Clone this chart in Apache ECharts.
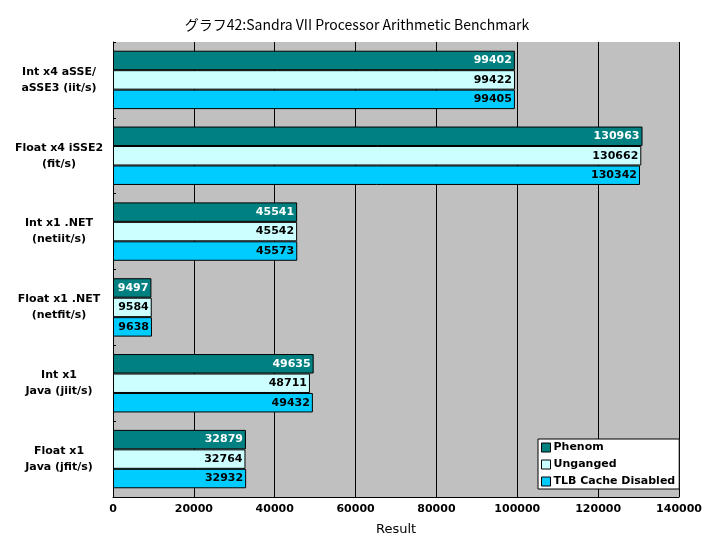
<!DOCTYPE html>
<html><head><meta charset="utf-8">
<script src="https://cdn.jsdelivr.net/npm/echarts@6/dist/echarts.min.js"></script>
<style>html,body{margin:0;padding:0;background:#fff}#c{width:705px;height:550px}</style>
</head><body><div id="c"></div>
<script>
const categories = ["Int x4 aSSE/\naSSE3 (iit/s)", "Float x4 iSSE2\n(fit/s)", "Int x1 .NET\n(netiit/s)", "Float x1 .NET\n(netfit/s)", "Int x1\nJava (jiit/s)", "Float x1\nJava (jfit/s)"];
const phenom = [99402, 130963, 45541, 9497, 49635, 32879];
const unganged = [99422, 130662, 45542, 9584, 48711, 32764];
const tlbDisabled = [99405, 130342, 45573, 9638, 49432, 32932];
const seriesNames = ["Phenom", "Unganged", "TLB Cache Disabled"];
const xTicks = {min: 0, max: 140000, interval: 20000};

const font = '"DejaVu Sans", sans-serif';
const chart = echarts.init(document.getElementById('c'), null, {renderer: 'canvas'});
function mk(name, data, color, labelColor) {
  return {
    name, type: 'bar', data,
    barGap: '0%', barCategoryGap: '23%',
    itemStyle: {color, borderColor: '#000', borderWidth: 1},
    label: {show: true, position: 'insideRight', distance: 3, color: labelColor,
      fontFamily: font, fontWeight: 'bold', fontSize: 11},
    emphasis: {disabled: true}, animation: false
  };
}
chart.setOption({
  backgroundColor: '#fff',
  animation: false,
  title: {text: 'グラフ42:Sandra VII Processor Arithmetic Benchmark', left: 352, top: 13, textAlign: 'center',
    textStyle: {fontFamily: '"Noto Sans CJK JP", ' + font, fontSize: 14, fontWeight: 'normal', color: '#000'}},
  grid: {left: 113, right: 22, top: 42, bottom: 53, show: true, backgroundColor: '#C0C0C0', borderWidth: 0},
  legend: {
    orient: 'vertical', left: 538, top: 439, data: seriesNames,
    backgroundColor: '#fff', borderColor: '#000', borderWidth: 1, padding: [3, 4, 2, 3],
    itemWidth: 9, itemHeight: 9, itemGap: 6, icon: 'rect',
    itemStyle: {borderColor: '#000', borderWidth: 1},
    textStyle: {fontFamily: font, fontWeight: 'bold', fontSize: 11, color: '#000', padding: [0, 0, 0, -2]}
  },
  xAxis: {
    type: 'value', min: xTicks.min, max: xTicks.max, interval: xTicks.interval,
    name: 'Result', nameLocation: 'middle', nameGap: 26,
    nameTextStyle: {fontFamily: font, fontSize: 13, color: '#000'},
    axisLine: {show: true, lineStyle: {color: '#000'}},
    axisTick: {show: false},
    axisLabel: {fontFamily: font, fontWeight: 'bold', fontSize: 11, color: '#000', margin: 7,
      formatter: v => String(v)},
    splitLine: {show: true, lineStyle: {color: '#000', width: 1}}
  },
  yAxis: {
    type: 'category', data: categories, inverse: true,
    axisLine: {show: true, lineStyle: {color: '#000'}},
    axisTick: {show: true, inside: true, length: 3, lineStyle: {color: '#000'}},
    axisLabel: {fontFamily: font, fontWeight: 'bold', fontSize: 11, color: '#000', align: 'center', margin: 54, lineHeight: 16}
  },
  series: [
    mk(seriesNames[0], phenom, '#008080', '#fff'),
    mk(seriesNames[1], unganged, '#CCFFFF', '#000'),
    mk(seriesNames[2], tlbDisabled, '#00CCFF', '#000')
  ]
});
</script></body></html>
